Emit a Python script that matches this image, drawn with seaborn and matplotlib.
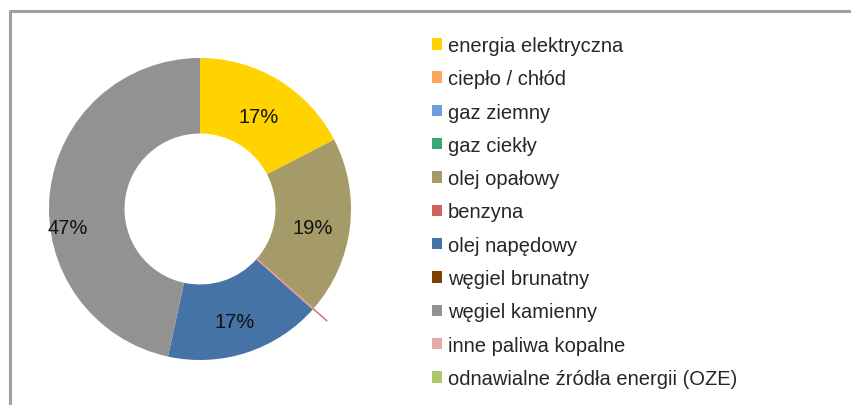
import numpy as np
import matplotlib
matplotlib.use("Agg")
import matplotlib.pyplot as plt
from matplotlib.patches import Patch
from matplotlib.lines import Line2D
import seaborn as sns

# udział nośników energii (%)
categories = ["energia elektryczna", "ciepło / chłód", "gaz ziemny", "gaz ciekły",
              "olej opałowy", "benzyna", "olej napędowy", "węgiel brunatny",
              "węgiel kamienny", "inne paliwa kopalne", "odnawialne źródła energii (OZE)"]
shares = [17.4, 0.0, 0.0, 0.0, 19.0, 0.2, 16.8, 0.0, 46.6, 0.0, 0.0]
colors = ["#FFD300", "#F9A65A", "#6A9FDC", "#3AA776", "#A59B68", "#D0635E",
          "#4673A5", "#7F4000", "#929292", "#E6A8A8", "#A9C769"]

sns.set_theme(style="white")
plt.rcParams["font.family"] = ["Liberation Sans", "DejaVu Sans"]

W, H = 851, 406
fig = plt.figure(figsize=(W / 100, H / 100), dpi=100)
fig.patch.set_facecolor("white")

# pie axes: centre at (200, 210) px, radius 151 px
R = 151.0
cx, cy = 200.0, 210.0
ax = fig.add_axes([0, 0, 400 / W, 1])
pal = sns.color_palette(colors)

wedges, texts, autotexts = ax.pie(
    shares, colors=pal, startangle=90, counterclock=False,
    radius=1.0, pctdistance=0.75,
    autopct=lambda p: f"{p:.0f}%" if p >= 1 else "",
    wedgeprops=dict(width=0.5, edgecolor="none", linewidth=0),
    textprops=dict(fontsize=14.5, color="#111111"))
ax.set_xlim(-cx / R, (400 - cx) / R)
ax.set_ylim(-(H - cy) / R, cy / R)
ax.set_aspect("auto")
ax.axis("off")

# labels sit a little lower than the ring middle, as in the original
for t in autotexts:
    x, y = t.get_position()
    t.set_position((x, y - 0.03))

# biggest slice label is placed out on the left, slightly below centre
big = int(np.argmax(shares))
a = np.deg2rad(188)
autotexts[big].set_position((0.885 * np.cos(a), 0.885 * np.sin(a)))

# thin slice (benzyna) drawn as a line plus a short leader line
idx = categories.index("benzyna")
ang = np.deg2rad(90 - 3.6 * (sum(shares[:idx]) + shares[idx] / 2))
ax.plot([0.5 * np.cos(ang), 1.0 * np.cos(ang)], [0.5 * np.sin(ang), 1.0 * np.sin(ang)],
        color="#E8A0A0", lw=1.0)
ax.plot([1.0 * np.cos(ang), 1.12 * np.cos(ang)], [1.0 * np.sin(ang), 1.12 * np.sin(ang)],
        color="#D0635E", lw=1.0)

handles = [Patch(facecolor=c, edgecolor="none") for c in pal]
fig.legend(handles, categories, loc="upper left",
           bbox_to_anchor=(432 / W, 1 - 37 / H), frameon=False,
           fontsize=14.5, handlelength=0.5, handleheight=0.5,
           handletextpad=0.3, labelspacing=0.71, borderpad=0, borderaxespad=0)

# gray frame (only top and left edges are visible)
fig.add_artist(Line2D([10 / W, 1], [1 - 12 / H, 1 - 12 / H], color="#A0A0A0", lw=2.2,
                      transform=fig.transFigure))
fig.add_artist(Line2D([10 / W, 10 / W], [0, 1 - 12 / H], color="#A0A0A0", lw=2.2,
                      transform=fig.transFigure))

fig.savefig("out.png", dpi=100)
